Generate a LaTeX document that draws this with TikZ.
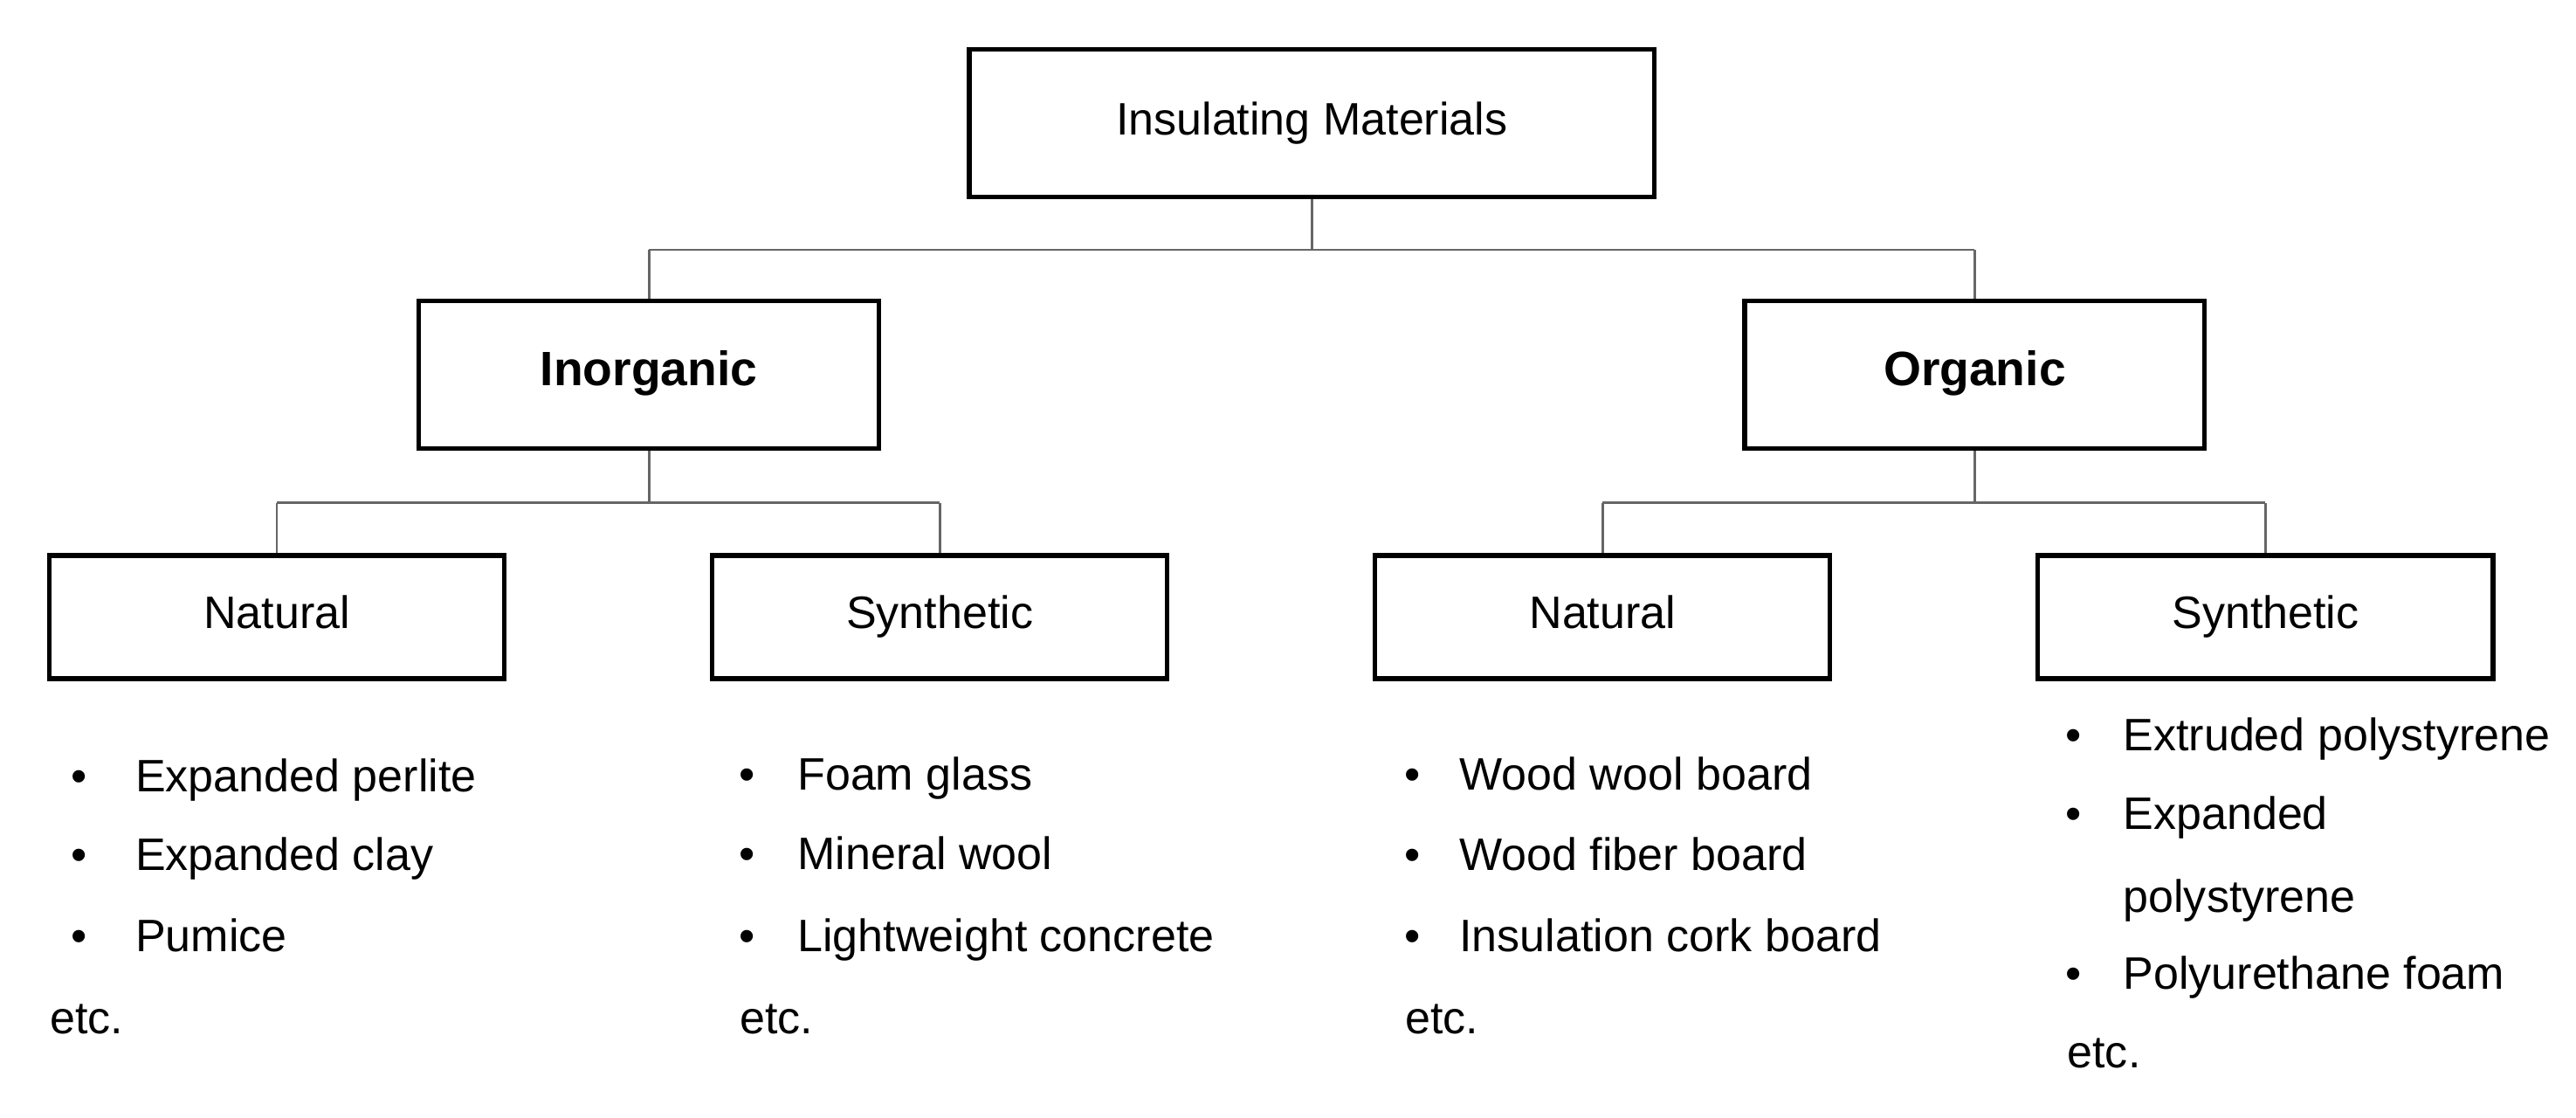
\documentclass[tikz,border=0pt]{standalone}
\usepackage{fontspec}
\setmainfont{Liberation Sans}
\begin{document}
\begin{tikzpicture}[x=0.47pt,y=-0.47pt,
  box/.style={draw=black,line width=1.3pt,inner sep=0pt,text height=9pt,text depth=2.5pt},
  conn/.style={draw=black!60,line width=0.7pt},
  txt/.style={anchor=west,inner sep=0pt,text height=9pt,text depth=2.5pt,font=\fontsize{13}{15}\selectfont},
  bul/.style={inner sep=0pt,text height=9pt,text depth=2.5pt,font=\fontsize{13}{15}\selectfont}]
\useasboundingbox (0,0) rectangle (1568,680);
\fill[white] (0,0) rectangle (1568,680);
\node[box,minimum width=417*0.47pt,minimum height=90*0.47pt,font=\fontsize{13}{15}\selectfont] (top) at (798.5,75) {Insulating Materials};
\node[box,minimum width=280*0.47pt,minimum height=90*0.47pt,font=\bfseries\fontsize{13.8}{16}\selectfont] (inorg) at (395,228) {Inorganic};
\node[box,minimum width=280*0.47pt,minimum height=90*0.47pt,font=\bfseries\fontsize{13.8}{16}\selectfont] (org) at (1202,228) {Organic};
\foreach \n/\x/\t in {n1/168.5/Natural,s1/572/Synthetic,n2/975.5/Natural,s2/1379/Synthetic}
  \node[box,minimum width=277*0.47pt,minimum height=75*0.47pt,font=\fontsize{13}{15}\selectfont] (\n) at (\x,375.5) {\t};
\coordinate (j0) at (798.5,152);
\coordinate (j1) at (395,306);
\coordinate (j2) at (1202,306);
\draw[conn] (top.south) -- (j0) (j0 -| inorg.north) -- (j0 -| org.north)
  (j0 -| inorg.north) -- (inorg.north) (j0 -| org.north) -- (org.north);
\draw[conn] (inorg.south) -- (j1) (j1 -| n1.north) -- (j1 -| s1.north)
  (j1 -| n1.north) -- (n1.north) (j1 -| s1.north) -- (s1.north);
\draw[conn] (org.south) -- (j2) (j2 -| n2.north) -- (j2 -| s2.north)
  (j2 -| n2.north) -- (n2.north) (j2 -| s2.north) -- (s2.north);
% lists
\foreach \bx/\tx/\y/\t [count=\i] in {
  48/82/475/Expanded perlite, 48/82/523/Expanded clay, 48/82/572/Pumice,
  455/485/474/Foam glass, 455/485/522/Mineral wool, 455/485/572/Lightweight concrete,
  860/888/474/Wood wool board, 860/888/523/Wood fiber board, 860/888/572/Insulation cork board,
  1262/1292/450/Extruded polystyrene, 1262/1292/498/Expanded, 1262/1292/595/Polyurethane foam}{
  \node[bul] (b\i) at (\bx,\y) {\textbullet};
  \node[txt] (t\i) at (\tx,\y) {\t};
}
\node[txt] (t13) at (1292,548) {polystyrene};
\node[txt] (e1) at (30,622) {etc.};
\node[txt] (e2) at (450,622) {etc.};
\node[txt] (e3) at (855,622) {etc.};
\node[txt] (e4) at (1258,643) {etc.};
\end{tikzpicture}
\end{document}
